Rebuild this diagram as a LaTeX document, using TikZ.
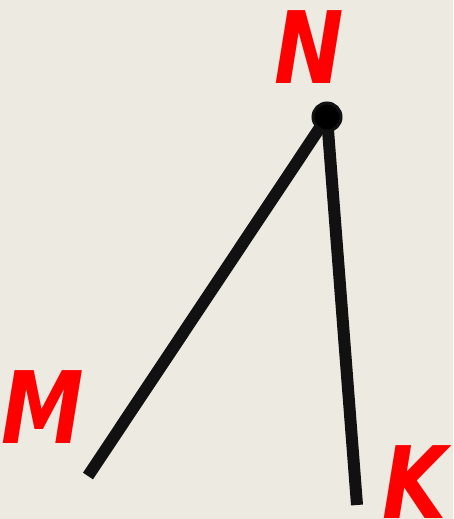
\documentclass[tikz,border=0pt]{standalone}
\usepackage{fontspec}
\usepackage{graphicx}
\setmainfont{DejaVu Sans}
\usetikzlibrary{positioning}
\definecolor{bgBeige}{RGB}{237,234,225}
\definecolor{cInk}{RGB}{17,17,17}
\definecolor{cLabel}{RGB}{255,0,0}
\newcommand{\narrowlbl}[1]{\scalebox{0.83}[1]{#1}}
\tikzset{
  seg/.style={draw=cInk, line width=12pt},
  lbl/.style={text=cLabel, font=\fontsize{100}{100}\selectfont\bfseries\itshape, inner sep=0pt},
  vtx/.style={circle, fill=black, draw=cInk, line width=3pt, minimum size=28pt, inner sep=0pt},
}
\begin{document}
\begin{tikzpicture}[x=1pt, y=-1pt]
\fill[bgBeige] (0,0) rectangle (453,519);
\useasboundingbox (0,0) rectangle (453,519);
% points
\coordinate (n) at (327,117);
\coordinate (m) at (88,476);
\coordinate (k) at (357,505);
% sides
\draw[seg] (n) -- (m);
\draw[seg] (n) -- (k);
\node[vtx] (dotN) at (n) {};
% labels
\node[lbl] (labN) at (309,47) {\narrowlbl{N}};
\node[lbl] (labM) at (43,407) {\narrowlbl{M}};
\node[lbl] (labK) at (415,482) {\narrowlbl{K}};
\end{tikzpicture}
\end{document}
